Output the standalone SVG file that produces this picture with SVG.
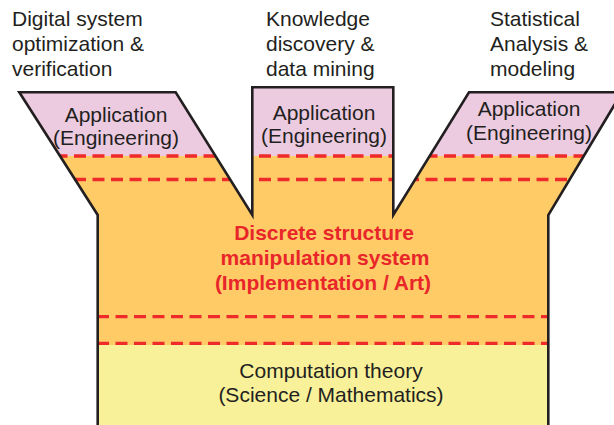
<svg xmlns="http://www.w3.org/2000/svg" width="614" height="425" viewBox="0 0 614 425">
<style>
.t{font-family:"Liberation Sans",Arial,sans-serif;font-size:21px;fill:#231f20}
.c{text-anchor:middle}
.r{font-weight:bold;fill:#e8262a}
.d{stroke:#ee2a2a;stroke-width:3.3;stroke-dasharray:12 6.5;fill:none}
.o{fill:none;stroke:#231f20;stroke-width:2.6;stroke-linejoin:miter}
</style>
<defs>
<clipPath id="shape">
<path d="M19.3,92.3 L175.7,92.3 L252.3,215 L252.3,87.3 L393.3,87.3 L393.3,215 L469,92.3 L622,92.3 L548.3,215 L548.3,425 L97.7,425 L97.7,215 Z"/>
</clipPath>
</defs>
<rect width="614" height="425" fill="#ffffff"/>
<g id="body" clip-path="url(#shape)">
<rect x="0" y="80" width="614" height="76" fill="#eccbe1"/>
<rect x="0" y="156" width="614" height="189" fill="#fecb67"/>
<rect x="0" y="345" width="614" height="80" fill="#f8f19a"/>
<g id="dashes">
<line class="d" x1="0" y1="156" x2="614" y2="156"/>
<line class="d" x1="0" y1="179.5" x2="614" y2="179.5"/>
<line class="d" x1="97" y1="316.7" x2="614" y2="316.7"/>
<line class="d" x1="97" y1="343.3" x2="614" y2="343.3"/>
</g>
</g>
<g id="outline">
<path class="o" d="M548.3,425 L548.3,215 L622,92.3 L469,92.3 L393.3,215 L393.3,87.3 L252.3,87.3 L252.3,215 L175.7,92.3 L19.3,92.3 L97.7,215 L97.7,425"/>
</g>
<g id="label-left">
<text class="t" x="12" y="26">Digital system</text>
<text class="t" x="12" y="51">optimization &amp;</text>
<text class="t" x="12" y="76">verification</text>
</g>
<g id="label-mid">
<text class="t" x="266" y="26">Knowledge</text>
<text class="t" x="266" y="51">discovery &amp;</text>
<text class="t" x="266" y="76">data mining</text>
</g>
<g id="label-right">
<text class="t" x="490" y="26">Statistical</text>
<text class="t" x="490" y="51">Analysis &amp;</text>
<text class="t" x="490" y="76">modeling</text>
</g>
<g id="app-left">
<text class="t c" x="116" y="122">Application</text>
<text class="t c" x="116" y="145">(Engineering)</text>
</g>
<g id="app-mid">
<text class="t c" x="324" y="120">Application</text>
<text class="t c" x="324" y="143">(Engineering)</text>
</g>
<g id="app-right">
<text class="t c" x="529" y="116">Application</text>
<text class="t c" x="529" y="140">(Engineering)</text>
</g>
<g id="discrete">
<text class="t c r" x="324" y="240">Discrete structure</text>
<text class="t c r" x="325" y="265">manipulation system</text>
<text class="t c r" x="323" y="290">(Implementation / Art)</text>
</g>
<g id="theory">
<text class="t c" x="331" y="378">Computation theory</text>
<text class="t c" x="331" y="402">(Science / Mathematics)</text>
</g>
</svg>
